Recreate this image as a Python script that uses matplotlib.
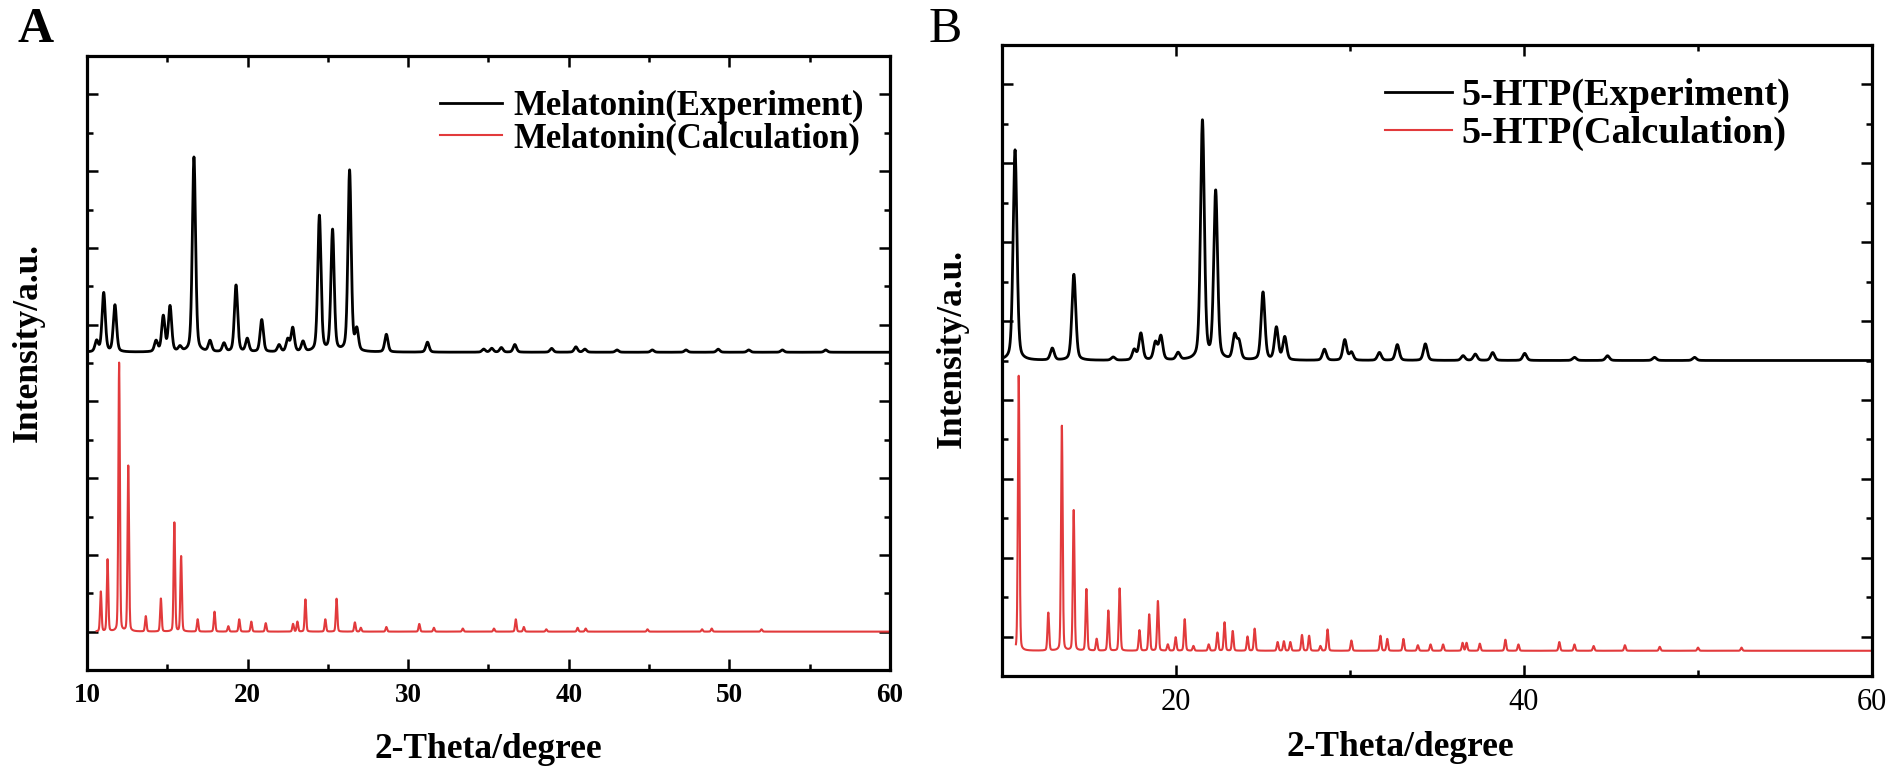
import numpy as np
import matplotlib
matplotlib.use("Agg")
import matplotlib.pyplot as plt
from matplotlib.ticker import MultipleLocator

plt.rcParams['font.family'] = ['Liberation Serif', 'DejaVu Serif']

# ---------------- Panel A : Melatonin ----------------
a_exp_base = 3.64
a_exp_pos = [10.6, 11.04, 11.74, 14.3, 14.75, 15.17, 15.79, 16.66, 17.66, 18.53,
             19.28, 19.98, 20.88, 21.96, 22.5, 22.81, 23.45, 24.47, 25.29, 26.35,
             26.8, 28.64, 31.2, 34.7, 35.2, 35.8, 36.64, 38.93, 40.44, 41.0,
             43.0, 45.2, 47.3, 49.3, 51.2, 53.3, 56.0]
a_exp_top = [3.78, 4.41, 4.25, 3.78, 4.10, 4.23, 3.70, 6.18, 3.78, 3.75,
             4.51, 3.81, 4.06, 3.73, 3.80, 3.95, 3.77, 5.41, 5.22, 6.00,
             3.91, 3.87, 3.77, 3.68, 3.69, 3.70, 3.74, 3.69, 3.71, 3.68,
             3.67, 3.67, 3.67, 3.68, 3.67, 3.67, 3.67]

a_calc_base = 0.0
a_calc_pos = [10.86, 11.28, 12.0, 12.57, 13.66, 14.6, 15.44, 15.86, 16.89, 17.94,
              18.8, 19.48, 20.23, 21.13, 22.83, 23.1, 23.6, 24.84, 25.54, 26.68,
              27.05, 28.64, 30.69, 31.6, 33.4, 35.34, 36.7, 37.2, 38.6, 40.55,
              41.05, 44.9, 48.3, 48.9, 52.0]
a_calc_top = [0.52, 0.94, 3.50, 2.16, 0.20, 0.43, 1.42, 0.98, 0.16, 0.26,
              0.07, 0.16, 0.13, 0.11, 0.10, 0.13, 0.42, 0.16, 0.43, 0.12,
              0.05, 0.06, 0.10, 0.05, 0.04, 0.04, 0.16, 0.06, 0.03, 0.05,
              0.04, 0.03, 0.03, 0.04, 0.03]

# ---------------- Panel B : 5-HTP ----------------
b_exp_base = 3.50
b_exp_pos = [10.75, 12.89, 14.13, 16.39, 17.6, 17.98, 18.82, 19.13, 20.12, 21.52,
             22.28, 23.37, 23.62, 25.0, 25.77, 26.25, 28.53, 29.70, 30.08, 31.69,
             32.72, 34.33, 36.5, 37.2, 38.2, 40.04, 42.9, 44.8, 47.5, 49.8]
b_exp_top = [6.17, 3.65, 4.59, 3.54, 3.63, 3.84, 3.72, 3.80, 3.59, 6.53,
             5.63, 3.80, 3.72, 4.36, 3.91, 3.79, 3.64, 3.76, 3.60, 3.60,
             3.70, 3.71, 3.56, 3.58, 3.60, 3.59, 3.54, 3.56, 3.54, 3.54]

b_calc_base = -0.18
b_calc_pos = [10.96, 12.66, 13.44, 14.12, 14.85, 15.44, 16.11, 16.76, 17.90, 18.46,
              18.96, 19.53, 19.98, 20.5, 21.0, 21.88, 22.38, 22.79, 23.26, 24.11,
              24.52, 25.84, 26.2, 26.57, 27.24, 27.65, 28.3, 28.71, 30.08, 31.75,
              32.14, 33.07, 33.9, 34.63, 35.35, 36.47, 36.7, 37.46, 38.93, 39.68,
              42.03, 42.9, 44.0, 45.8, 47.8, 50.0, 52.5]
b_calc_top = [3.32, 0.30, 2.67, 1.60, 0.60, -0.03, 0.33, 0.61, 0.08, 0.28,
              0.45, -0.10, -0.01, 0.22, -0.12, -0.10, 0.05, 0.18, 0.07, 0.00,
              0.10, -0.07, -0.06, -0.07, 0.02, 0.01, -0.12, 0.09, -0.05, 0.01,
              -0.03, -0.03, -0.11, -0.10, -0.10, -0.08, -0.08, -0.09, -0.04, -0.10,
              -0.07, -0.10, -0.12, -0.11, -0.13, -0.14, -0.14]

labels_a = ["Melatonin(Experiment)", "Melatonin(Calculation)"]
labels_b = ["5-HTP(Experiment)", "5-HTP(Calculation)"]
xlabel_text = "2-Theta/degree"
ylabel_text = "Intensity/a.u."

BLACK = "#000000"
RED = "#e23a3c"


def pattern(x, base, pos, top, fwhm, eta):
    y = np.full_like(x, base, dtype=float)
    for p, t in zip(pos, top):
        d = (x - p) / (fwhm / 2.0)
        prof = eta / (1.0 + d ** 2) + (1 - eta) * np.exp(-np.log(2) * d ** 2)
        y += (t - base) * prof
    return y


fig = plt.figure(figsize=(19.02, 7.80), dpi=100)

axA = fig.add_axes([87 / 1902, 1 - 670 / 780, 803 / 1902, 614 / 780])
axB = fig.add_axes([1002 / 1902, 1 - 676 / 780, 870 / 1902, 631 / 780])

xa1 = np.linspace(10.0, 60.0, 6001)
xa2 = np.linspace(10.6, 60.0, 6001)
axA.plot(xa1, pattern(xa1, a_exp_base, a_exp_pos, a_exp_top, 0.24, 0.35),
         color=BLACK, lw=2.0, label=labels_a[0])
axA.plot(xa2, pattern(xa2, a_calc_base, a_calc_pos, a_calc_top, 0.11, 0.2),
         color=RED, lw=1.5, label=labels_a[1])

xb1 = np.linspace(10.0, 60.0, 6001)
xb2 = np.linspace(10.8, 60.0, 6001)
axB.plot(xb1, pattern(xb1, b_exp_base, b_exp_pos, b_exp_top, 0.26, 0.35),
         color=BLACK, lw=2.0, label=labels_b[0])
axB.plot(xb2, pattern(xb2, b_calc_base, b_calc_pos, b_calc_top, 0.11, 0.2),
         color=RED, lw=1.5, label=labels_b[1])

for ax, major, tickfs, tickw in [(axA, 10, 19.5, 'bold'), (axB, 20, 22, 'normal')]:
    ax.set_xlim(10, 60)
    ax.set_ylim(-0.5, 7.5)
    ax.xaxis.set_major_locator(MultipleLocator(major))
    ax.xaxis.set_minor_locator(MultipleLocator(major / 2))
    ax.yaxis.set_major_locator(MultipleLocator(1))
    ax.yaxis.set_minor_locator(MultipleLocator(0.5))
    ax.tick_params(which='both', direction='in', top=True, right=True, width=1.8)
    ax.tick_params(which='major', length=8)
    ax.tick_params(which='minor', length=4)
    ax.tick_params(axis='y', which='both', labelleft=False)
    ax.tick_params(axis='x', which='major', pad=9, labelsize=tickfs)
    for lab in ax.get_xticklabels():
        lab.set_fontweight(tickw)
    for s in ax.spines.values():
        s.set_linewidth(2.3)
    ax.set_xlabel(xlabel_text, fontsize=25.5, fontweight='bold')
    ax.set_ylabel(ylabel_text, fontsize=25.5, fontweight='bold')
    ax.xaxis.label.set_verticalalignment('center')
    ax.yaxis.label.set_verticalalignment('center')
    ax.yaxis.label.set_horizontalalignment('center')

axB.set_xticks([20, 40, 60])

axA.xaxis.set_label_coords(0.5, (670 - 750) / 614)
axA.yaxis.set_label_coords((28 - 87) / 803, (670 - 343) / 614)
axB.xaxis.set_label_coords((1400 - 1002) / 870, (676 - 748) / 631)
axB.yaxis.set_label_coords((952 - 1002) / 870, (676 - 348) / 631)

axA.legend(loc='upper left', bbox_to_anchor=((440 - 87) / 803, (670 - 90) / 614),
           frameon=False, borderpad=0, borderaxespad=0, handlelength=1.78,
           handletextpad=0.32, labelspacing=-0.02,
           prop={'family': 'Liberation Serif', 'weight': 'bold', 'size': 25})
axB.legend(loc='upper left', bbox_to_anchor=((1385 - 1002) / 870, (676 - 78) / 631),
           frameon=False, borderpad=0, borderaxespad=0, handlelength=1.75,
           handletextpad=0.26, labelspacing=0.08,
           prop={'family': 'Liberation Serif', 'weight': 'bold', 'size': 27.5})

fig.text(36 / 1902, 1 - 30 / 780, "A", fontsize=36, fontweight='bold',
         ha='center', va='center')
fig.text(945 / 1902, 1 - 30 / 780, "B", fontsize=36, fontweight='normal',
         ha='center', va='center')

fig.savefig("out.png", dpi=100)
